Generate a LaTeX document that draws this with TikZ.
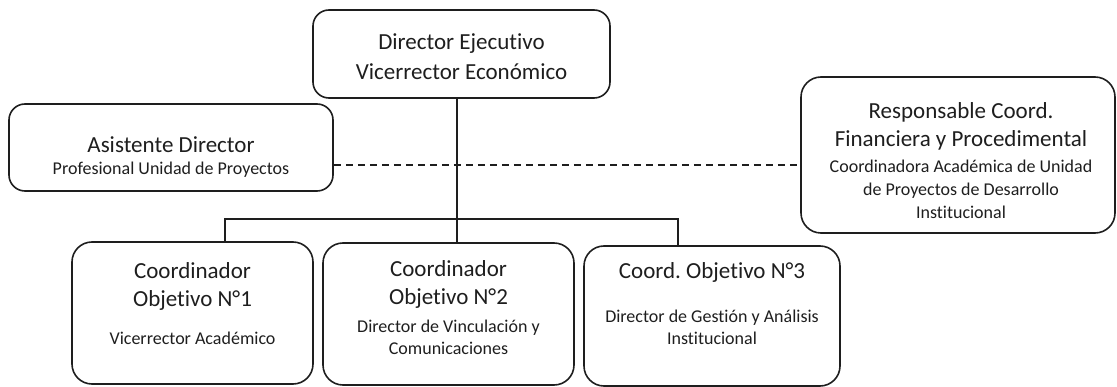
\documentclass[tikz,border=0pt]{standalone}
\usepackage{fontspec}
\setmainfont{Carlito}[Ligatures=NoCommon]
\usetikzlibrary{calc}
\definecolor{ink}{HTML}{1E1E1E}
\begin{document}
\frenchspacing
\begin{tikzpicture}[x=1pt,y=-1pt,
  bx/.style={draw=ink, line width=1.6pt, rounded corners=16pt, inner sep=0pt},
  big/.style={font=\fontsize{23}{28}\selectfont, text=ink, align=center, inner sep=0pt},
  sml/.style={font=\fontsize{18}{22}\selectfont, text=ink, align=center, inner sep=0pt},
  ln/.style={draw=ink, line width=1.6pt},
  dsh/.style={draw=ink, line width=1.5pt, dash pattern=on 7pt off 5pt}]
\useasboundingbox (0,0) rectangle (1117,387);

% boxes
\node[bx, minimum width=297pt, minimum height=88pt] (dir) at (461.5,54) {};
\node[big] (dirT) at (461.5,57) {Director Ejecutivo\\[2pt]Vicerrector Económico};

\node[bx, minimum width=324pt, minimum height=87pt] (asis) at (171,147.5) {};
\node[big] (asisA) at (171,145) {Asistente Director};
\node[sml] (asisB) at (171,170) {Profesional Unidad de Proyectos};

\node[bx, minimum width=314pt, minimum height=156pt, rounded corners=20pt] (resp) at (958,155) {};
\node[big] (respA) at (961,126) {Responsable Coord.\\Financiera y Procedimental};
\node[sml] (respB) at (961,189) {Coordinadora Académica de Unidad\\[1pt]de Proyectos de Desarrollo\\[1pt]Institucional};

\node[bx, minimum width=241pt, minimum height=142pt, rounded corners=20pt] (c1) at (192.5,313) {};
\node[big] (c1A) at (192.5,286) {Coordinador\\Objetivo N°1};
\node[sml] (c1B) at (192.5,338) {Vicerrector Académico};

\node[bx, minimum width=251pt, minimum height=142pt, rounded corners=20pt] (c2) at (448.5,314) {};
\node[big] (c2A) at (448.5,284) {Coordinador\\Objetivo N°2};
\node[sml] (c2B) at (448.5,337.5) {Director de Vinculación y\\Comunicaciones};

\node[bx, minimum width=256pt, minimum height=140pt, rounded corners=20pt] (c3) at (712,316) {};
\node[big] (c3A) at (712,272) {Coord. Objetivo N°3};
\node[sml] (c3B) at (712,327) {Director de Gestión y Análisis\\Institucional};

% connectors
\coordinate (j) at (457,219);
\coordinate (hl) at (225,219);
\coordinate (hr) at (678,219);
\coordinate (dy) at (0,165);
\draw[dsh] (asis.east |- dy) -- (resp.west |- dy);
\draw[ln] (dir.south -| j) -- (j) -- (j |- c2.north);
\draw[ln] (hl |- c1.north) -- (hl) -- (hr) -- (hr |- c3.north);
\end{tikzpicture}
\end{document}
